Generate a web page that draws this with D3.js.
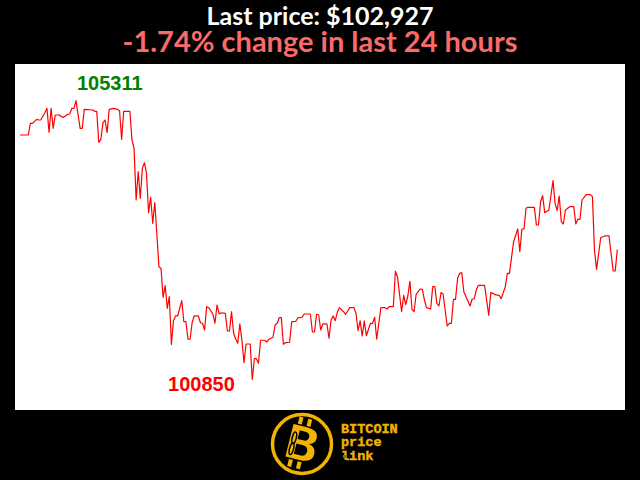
<!DOCTYPE html>
<html><head><meta charset="utf-8">
<script src="https://cdn.jsdelivr.net/npm/d3@7"></script>
<style>html,body{margin:0;padding:0;background:#000;overflow:hidden} svg{display:block}</style>
</head><body>
<svg id="c" width="640" height="480"></svg>
<script>
// minutes since start of the 24h window
const minutes = [0,20,25,30,40,45,50,60,65,70,75,80,85,95,100,105,115,120,125,130,135,145,150,155,175,180,185,190,195,200,205,210,215,225,235,240,245,250,265,270,275,280,285,290,295,300,305,310,315,320,325,335,340,345,350,355,360,365,370,375,380,390,395,400,405,410,415,420,430,435,440,445,450,455,465,470,475,480,485,495,500,505,510,515,520,525,530,535,540,545,555,560,565,570,575,580,590,595,600,610,615,620,625,630,635,640,650,655,665,670,680,685,700,705,710,715,720,725,730,740,745,750,755,760,765,770,780,785,790,795,805,810,815,820,825,830,835,845,850,855,860,870,880,885,890,900,905,910,920,925,930,935,940,945,950,955,965,970,975,980,990,995,1000,1005,1010,1015,1020,1025,1030,1035,1040,1045,1050,1055,1060,1065,1070,1085,1090,1095,1100,1105,1120,1130,1135,1140,1145,1155,1160,1170,1175,1180,1190,1200,1205,1210,1215,1220,1225,1240,1245,1250,1255,1260,1265,1275,1285,1290,1295,1300,1305,1310,1315,1325,1335,1340,1345,1350,1355,1365,1375,1380,1385,1390,1400,1410,1420,1430,1435,1440];
// BTC price (USD)
const prices = [104762,104762,104949,104949,105013,105002,105002,105119,105189,104805,105189,104869,105082,105082,105055,105045,105093,105098,105189,105189,105311,104869,104869,105173,105162,105141,105141,104645,104693,104959,105002,104799,105173,105189,105173,105151,104693,105141,105141,104682,104549,103721,104174,103748,104229,104318,104149,103518,103764,103348,103681,102653,102624,102163,102352,101987,102173,101410,101788,101864,101864,102109,101772,101772,101491,101491,101756,101864,101864,101756,101747,101639,102013,101997,101896,101747,102040,101896,101916,101907,101623,101623,101932,101587,101495,101427,101736,101479,101116,101415,101415,100850,101180,101180,101106,101475,101475,101447,101491,101523,101719,101747,101836,101836,101410,101436,101443,101772,101779,101836,101843,101896,101896,101607,101607,101891,101884,101639,101736,101736,101507,101800,101864,101788,101923,101997,101932,101891,101944,101997,101997,101907,101628,101788,101543,101784,101548,101747,101747,101843,101491,101997,101997,101976,102013,102013,102579,102493,101932,102195,102045,102184,102419,101971,101932,102211,102296,102291,102120,101997,101976,102333,102336,102067,102024,102240,102216,101960,101704,101747,101747,102131,102131,102467,102547,102557,102253,102024,102136,102136,102280,102355,102355,101875,102237,102227,102205,102195,102141,102333,102547,102547,103053,103257,102893,103257,103257,103588,103604,103604,103321,103321,103694,103790,103518,103561,104030,103668,103550,103785,103374,103337,103561,103614,103614,103337,103412,103412,103721,103806,103806,103774,102920,102611,103117,103145,103145,102584,102584,102927];
const lastPrice = 102927;
const changePct = -1.74;
const windowLabel = "last 24 hours";

const svg = d3.select("#c");
svg.append("rect").attr("width",640).attr("height",480).attr("fill","#000");
svg.append("rect").attr("x",15).attr("y",64).attr("width",610).attr("height",346).attr("fill","#fff");

const data = minutes.map((m,i)=>({m, p: prices[i]}));
const pMin = d3.min(prices), pMax = d3.max(prices);
const x = d3.scaleLinear().domain([0,1440]).range([20,617.3]);
const y = d3.scaleLinear().domain([pMin,pMax]).range([379.3,100.7]);

svg.append("path").datum(data)
  .attr("d", d3.line().x(d=>x(d.m)).y(d=>y(d.p)))
  .attr("fill","none").attr("stroke","#ff0000").attr("stroke-width",1.2)
  .attr("stroke-linejoin","round");

const iMax = d3.maxIndex(prices), iMin = d3.minIndex(prices);
svg.append("text").attr("x", x(minutes[iMax])+1).attr("y", y(pMax)-10.5)
  .attr("font-family","Liberation Sans, Arial, sans-serif").attr("font-weight","bold")
  .attr("font-size",20).attr("fill","#008000").text(pMax);
svg.append("text").attr("x", x(minutes[iMin])-17.5).attr("y", y(pMin)+11.5)
  .attr("text-anchor","end")
  .attr("font-family","Liberation Sans, Arial, sans-serif").attr("font-weight","bold")
  .attr("font-size",20).attr("fill","#ff0000").text(pMin);

// Titles
const sign = changePct < 0 ? "-" : "+";
svg.append("text").attr("x",320).attr("y",24.5).attr("text-anchor","middle")
  .attr("font-family","Lato, sans-serif").attr("font-weight","bold")
  .attr("font-size",25).attr("fill","#fff")
  .text("Last price: $" + d3.format(",")(lastPrice));
svg.append("text").attr("x",320).attr("y",52).attr("text-anchor","middle")
  .attr("font-family","Lato, sans-serif").attr("font-weight","bold")
  .attr("font-size",29).attr("fill","#fa6a6a")
  .text(sign + Math.abs(changePct).toFixed(2) + "% change in " + windowLabel);

// Logo
const gold = "#f2b400";
const logo = svg.append("g").attr("transform","translate(302,444)");
logo.append("circle").attr("r",29.5).attr("fill","#000").attr("stroke",gold).attr("stroke-width",3.5);
const bg = logo.append("g").attr("transform","rotate(14)");
bg.append("rect").attr("x",-9).attr("y",-26).attr("width",4).attr("height",8).attr("fill",gold);
bg.append("rect").attr("x",0).attr("y",-26).attr("width",4).attr("height",8).attr("fill",gold);
bg.append("rect").attr("x",-9).attr("y",17).attr("width",4).attr("height",8).attr("fill",gold);
bg.append("rect").attr("x",0).attr("y",17).attr("width",4).attr("height",8).attr("fill",gold);
bg.append("text").attr("x",0).attr("y",17).attr("text-anchor","middle")
  .attr("font-family","DejaVu Sans, sans-serif").attr("font-weight","bold")
  .attr("font-size",48).attr("fill",gold).attr("stroke","#000").attr("stroke-width",1.5).text("B");
bg.append("ellipse").attr("cx",-9).attr("cy",-4).attr("rx",2).attr("ry",6).attr("fill","none").attr("stroke","#000").attr("stroke-width",1.5);
bg.append("ellipse").attr("cx",-9).attr("cy",7).attr("rx",2).attr("ry",6).attr("fill","none").attr("stroke","#000").attr("stroke-width",1.5);

const lt = svg.append("g").attr("font-family","Liberation Mono, DejaVu Sans Mono, monospace")
  .attr("font-weight","bold").attr("fill",gold).attr("stroke",gold).attr("stroke-width",0.4);
lt.append("text").attr("x",341).attr("y",432.5).attr("font-size",13.5).text("BITCOIN");
lt.append("text").attr("x",341).attr("y",446).attr("font-size",13.5).text("price");
lt.append("text").attr("x",341).attr("y",460).attr("font-size",13.5).text(" link");
svg.append("rect").attr("x",343).attr("y",455).attr("width",3).attr("height",3).attr("fill","#1fa040");
</script>
</body></html>
